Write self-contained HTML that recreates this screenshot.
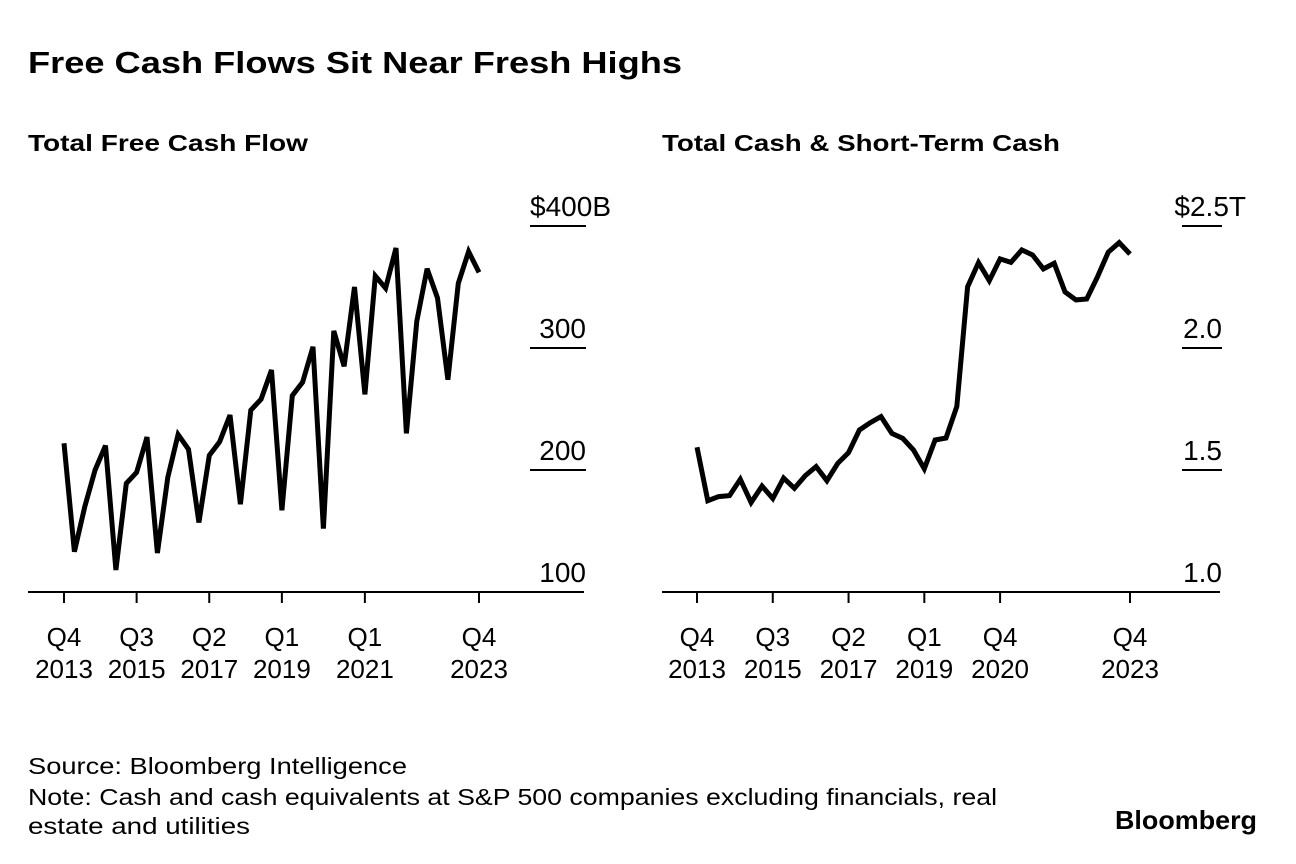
<!DOCTYPE html>
<html><head><meta charset="utf-8">
<style>
html,body{margin:0;padding:0;background:#fff;}
svg{display:block;font-family:"Liberation Sans",Arial,sans-serif;}
</style></head>
<body>
<svg id="chart" width="1296" height="864" viewBox="0 0 1296 864" xmlns="http://www.w3.org/2000/svg">
<text x="28" y="73" font-size="31" font-weight="bold" textLength="654" lengthAdjust="spacingAndGlyphs">Free Cash Flows Sit Near Fresh Highs</text>
<text x="28" y="151" font-size="23" font-weight="bold" textLength="280" lengthAdjust="spacingAndGlyphs">Total Free Cash Flow</text>
<text x="662" y="151" font-size="23" font-weight="bold" textLength="398" lengthAdjust="spacingAndGlyphs">Total Cash &amp; Short-Term Cash</text>
<g id="left"></g>
<g id="right"></g>
<text x="28" y="774" font-size="23" textLength="379" lengthAdjust="spacingAndGlyphs">Source: Bloomberg Intelligence</text>
<text x="28" y="805" font-size="23" textLength="969" lengthAdjust="spacingAndGlyphs">Note: Cash and cash equivalents at S&amp;P 500 companies excluding financials, real</text>
<text x="28" y="834" font-size="23" textLength="222" lengthAdjust="spacingAndGlyphs">estate and utilities</text>
<text x="1257" y="829" font-size="26" font-weight="bold" text-anchor="end" textLength="142" lengthAdjust="spacingAndGlyphs">Bloomberg</text>
</svg>
<script>
const fcfValues = [222,133,170,200,220,118,189,198,227,132,194,229,217,157,212,223,245,172,249,258,282,167,261,272,301,152,314,285,350,262,359,349,382,230,322,365,341,274,353,379,362];
const cashValues = [1.593,1.374,1.391,1.395,1.462,1.367,1.434,1.383,1.467,1.425,1.477,1.514,1.456,1.527,1.571,1.664,1.694,1.719,1.650,1.630,1.582,1.505,1.623,1.631,1.760,2.251,2.350,2.276,2.365,2.351,2.402,2.381,2.324,2.347,2.230,2.197,2.201,2.292,2.393,2.432,2.385];
const leftTickValues = [100,200,300,400];
const leftTickLabels = ["100","200","300","$400B"];
const rightTickValues = [1.0,1.5,2.0,2.5];
const rightTickLabels = ["1.0","1.5","2.0","$2.5T"];
const leftXTickIndex = [0,7,14,21,29,40];
const leftXTickLabels = [["Q4","2013"],["Q3","2015"],["Q2","2017"],["Q1","2019"],["Q1","2021"],["Q4","2023"]];
const rightXTickIndex = [0,7,14,21,28,40];
const rightXTickLabels = [["Q4","2013"],["Q3","2015"],["Q2","2017"],["Q1","2019"],["Q4","2020"],["Q4","2023"]];

const NS="http://www.w3.org/2000/svg";
function mk(parent,tag,attrs){const e=document.createElementNS(NS,tag);for(const k in attrs)e.setAttribute(k,attrs[k]);parent.appendChild(e);return e;}

function panel(gid,cfg){
  const g=document.getElementById(gid);
  const n=cfg.values.length;
  const xs=i=>cfg.x0+(cfg.x1-cfg.x0)*i/(n-1);
  const ys=v=>592-(v-cfg.ymin)/(cfg.ymax-cfg.ymin)*366;
  const axis=mk(g,'line',{x1:cfg.ax0,x2:cfg.ax1,y1:592,y2:592,stroke:'#000','stroke-width':2});
  
  
  cfg.ticks.forEach((v,i)=>{
    const y=ys(v);
    if(i>0){
      const l=mk(g,'line',{x1:cfg.tx0,x2:cfg.tx1,y1:y,y2:y,stroke:'#000','stroke-width':2});
      
      
    }
    const lab=cfg.tickLabels[i];
    const isTop=i===cfg.ticks.length-1;
    const t=mk(g,'text',{x:isTop?cfg.topX:cfg.tx1,y:y-10,'font-size':28,'text-anchor':'end'});
    t.textContent=lab;
    
    
  });
  cfg.xIdx.forEach((idx,i)=>{
    const x=xs(idx);
    const tk=mk(g,'line',{x1:x,x2:x,y1:592,y2:603,stroke:'#000','stroke-width':2});
    
    
    const t1=mk(g,'text',{x:x,y:646,'font-size':26,'text-anchor':'middle'});
    t1.textContent=cfg.xLabels[i][0];
    
    
    const t2=mk(g,'text',{x:x,y:678,'font-size':26,'text-anchor':'middle'});
    t2.textContent=cfg.xLabels[i][1];
    
    
  });
  const d=cfg.values.map((v,i)=>(i?'L':'M')+xs(i).toFixed(1)+' '+ys(v).toFixed(1)).join(' ');
  const p=mk(g,'path',{d:d,fill:'none',stroke:'#000','stroke-width':5,'stroke-linejoin':'miter','stroke-miterlimit':3,'stroke-linecap':'butt'});
  
  
}
panel('left',{values:fcfValues,x0:64,x1:479,ymin:100,ymax:400,ax0:28,ax1:584,tx0:530,tx1:586,topX:611,ticks:leftTickValues,tickLabels:leftTickLabels,xIdx:leftXTickIndex,xLabels:leftXTickLabels});
panel('right',{values:cashValues,x0:697,x1:1130,ymin:1.0,ymax:2.5,ax0:662,ax1:1220,tx0:1182,tx1:1222,topX:1246,ticks:rightTickValues,tickLabels:rightTickLabels,xIdx:rightXTickIndex,xLabels:rightXTickLabels});
</script>
</body></html>
